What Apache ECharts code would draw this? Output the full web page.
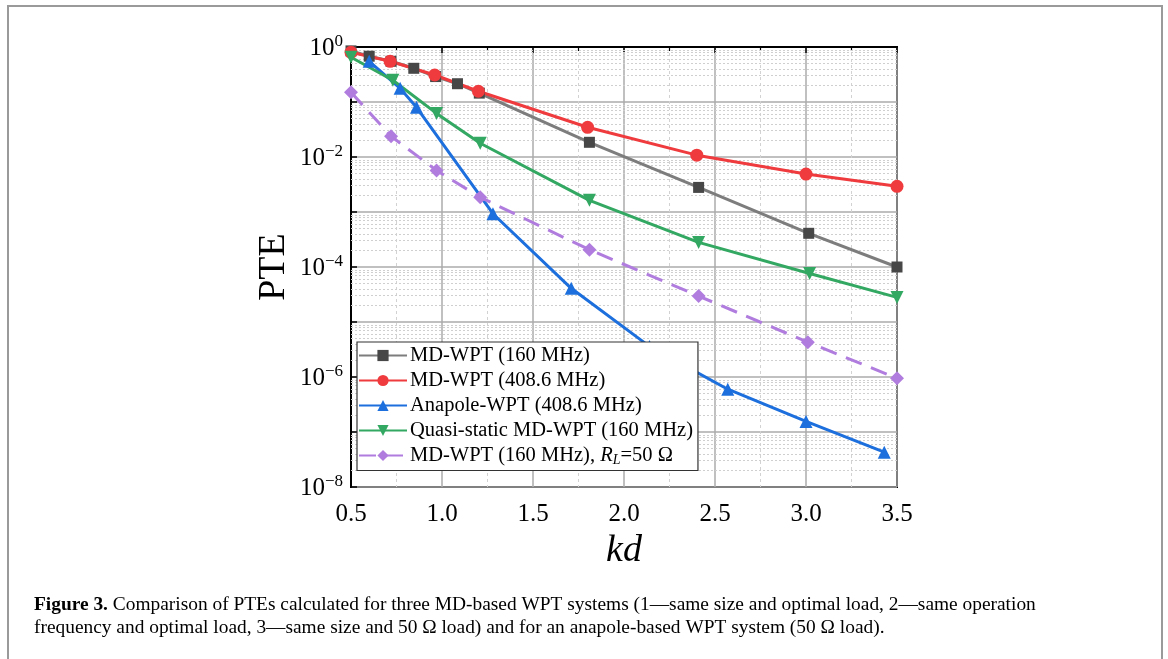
<!DOCTYPE html>
<html>
<head>
<meta charset="utf-8">
<script src="https://cdn.jsdelivr.net/npm/echarts@6/dist/echarts.min.js"></script>
<style>
  html, body { margin: 0; padding: 0; background: #fff; }
  #chart { width: 1168px; height: 659px; }
</style>
</head>
<body>
<div id="chart"></div>
<script>
// kd values and PTE values for each system
const kdMd160 = [0.5, 0.6, 0.72, 0.845, 0.965, 1.085, 1.205, 1.81, 2.41, 3.015, 3.5];
const pteMd160 = [0.85, 0.68, 0.55, 0.41, 0.29, 0.215, 0.145, 0.0185, 0.0028, 4.1e-4, 1.0e-4];

const kdMd408 = [0.5, 0.715, 0.96, 1.2, 1.8, 2.4, 3.0, 3.5];
const pteMd408 = [0.80, 0.55, 0.31, 0.157, 0.0347, 0.0108, 0.0049, 0.00293];

const kdAnapole = [0.6, 0.77, 0.86, 1.28, 1.71, 2.14, 2.57, 3.0, 3.43];
const pteAnapole = [0.55, 0.177, 0.08, 9.3e-4, 4.1e-5, 3.6e-6, 6.0e-7, 1.56e-7, 4.3e-8];

const kdQuasi = [0.5, 0.73, 0.97, 1.21, 1.81, 2.41, 3.02, 3.5];
const pteQuasi = [0.65, 0.248, 0.062, 0.0178, 0.00163, 2.8e-4, 7.6e-5, 2.8e-5];

const kdMd50 = [0.5, 0.72, 0.97, 1.21, 1.81, 2.41, 3.01, 3.5];
const pteMd50 = [0.15, 0.0238, 0.0057, 0.00185, 2.06e-4, 2.96e-5, 4.3e-6, 9.5e-7];

const seriesNames = [
  'MD-WPT (160 MHz)',
  'MD-WPT (408.6 MHz)',
  'Anapole-WPT (408.6 MHz)',
  'Quasi-static MD-WPT (160 MHz)',
  'MD-WPT (160 MHz), R_L=50 Ω'
];
const xTicks = [0.5, 1.0, 1.5, 2.0, 2.5, 3.0, 3.5];
const yDecadeMin = -8, yDecadeMax = 0;

const serif = '"Liberation Serif", "Times New Roman", serif';

// the y axis works on log10(PTE)
function pairs(xs, ys) {
  return xs.map((x, i) => [x, Math.log10(ys[i])]);
}

// dotted minor grid at 2..9 × 10^n
const minorLines = [];
for (let n = yDecadeMin; n < yDecadeMax; n++) {
  for (let k = 2; k <= 9; k++) minorLines.push({ yAxis: n + Math.log10(k) });
}

function lineSeries(name, data, color, markerColor, symbol, size, extra) {
  return Object.assign({
    name: name,
    type: 'line',
    data: data,
    clip: false,
    symbol: symbol,
    symbolSize: size,
    showAllSymbol: true,
    lineStyle: { color: color, width: 3 },
    itemStyle: { color: markerColor, borderWidth: 0 },
    emphasis: { disabled: true },
    animation: false,
    z: 3
  }, extra || {});
}

const chart = echarts.init(document.getElementById('chart'), null, { renderer: 'canvas' });

chart.setOption({
  backgroundColor: '#fff',
  animation: false,
  grid: {
    left: 351, top: 47, width: 546, height: 440,
    show: true, borderColor: '#000', borderWidth: 2, backgroundColor: 'transparent'
  },
  xAxis: {
    type: 'value',
    min: xTicks[0], max: xTicks[xTicks.length - 1], interval: 0.5,
    name: 'kd',
    nameLocation: 'middle',
    nameGap: 44,
    nameTextStyle: { fontFamily: serif, fontStyle: 'italic', fontSize: 38, color: '#000' },
    axisLine: { show: true, lineStyle: { color: '#000', width: 2 } },
    axisTick: { show: true, inside: false, length: 6, lineStyle: { color: '#000', width: 1.5 } },
    minorTick: { show: true, splitNumber: 2, length: 4, lineStyle: { color: '#000', width: 1.2 } },
    axisLabel: {
      fontFamily: serif, fontSize: 25, color: '#000', margin: 15,
      formatter: v => v.toFixed(1)
    },
    splitLine: { show: true, lineStyle: { color: '#ababab', width: 1.5 } },
    minorSplitLine: { show: true, lineStyle: { color: '#d2d2d2', width: 1, type: [3, 3] } }
  },
  yAxis: {
    type: 'value',
    min: yDecadeMin, max: yDecadeMax, interval: 1,
    name: 'PTE',
    nameLocation: 'middle',
    nameGap: 58,
    nameTextStyle: { fontFamily: serif, fontSize: 38, color: '#000' },
    axisLine: { show: true, lineStyle: { color: '#000', width: 2 } },
    axisTick: { show: true, inside: true, length: 6, lineStyle: { color: '#000', width: 1.5 } },
    axisLabel: {
      margin: 8,
      formatter: v => {
        if (Math.round(v) % 2 !== 0) return '';
        const e = Math.round(v) === 0 ? '0' : '\u2212' + (-Math.round(v));
        return '{b|10}{s|' + e + '}';
      },
      rich: {
        b: { fontFamily: serif, fontSize: 25, color: '#000', verticalAlign: 'bottom', lineHeight: 28 },
        s: { fontFamily: serif, fontSize: 17, color: '#000', verticalAlign: 'top', lineHeight: 28, padding: [0, 0, 12, 0] }
      }
    },
    splitLine: { show: true, lineStyle: { color: '#ababab', width: 1.5 } }
  },
  legend: {
    orient: 'vertical',
    left: 357, top: 342,
    data: seriesNames,
    backgroundColor: '#fff',
    borderColor: '#333',
    borderWidth: 1.2,
    padding: [3, 5, 3, 1],
    itemGap: 4,
    itemWidth: 48,
    itemHeight: 14,
    selectedMode: false,
    z: 10,
    textStyle: {
      fontFamily: serif, fontSize: 20.5, color: '#000', padding: [0, 0, 0, -2],
      rich: {
        i: { fontFamily: serif, fontSize: 20.5, fontStyle: 'italic', color: '#000' },
        sub: { fontFamily: serif, fontSize: 14, fontStyle: 'italic', color: '#000', verticalAlign: 'bottom', padding: [10, 0, 0, 0] },
        t: { fontFamily: serif, fontSize: 20.5, color: '#000' }
      }
    },
    formatter: name => name.indexOf('R_L') >= 0
      ? '{t|MD-WPT (160 MHz), }{i|R}{sub|L}{t|=50 Ω}'
      : name
  },
  series: [
    {
      type: 'line', data: [], silent: true, symbol: 'none', z: 1,
      markLine: {
        z: 1,
        silent: true, symbol: 'none', animation: false,
        label: { show: false },
        lineStyle: { color: '#cfcfcf', width: 1, type: [2, 2] },
        emphasis: { disabled: true },
        data: minorLines
      }
    },
    lineSeries(seriesNames[0], pairs(kdMd160, pteMd160), '#7d7d7d', '#474747', 'rect', 11),
    lineSeries(seriesNames[1], pairs(kdMd408, pteMd408), '#ef3b3d', '#ef3b3d', 'circle', 13),
    lineSeries(seriesNames[2], pairs(kdAnapole, pteAnapole), '#1c6fdd', '#1c6fdd', 'triangle', 13),
    lineSeries(seriesNames[3], pairs(kdQuasi, pteQuasi), '#33a862', '#33a862', 'triangle', 13, { symbolRotate: 180 }),
    lineSeries(seriesNames[4], pairs(kdMd50, pteMd50), '#b07ddf', '#b07ddf', 'diamond', 14,
      { lineStyle: { color: '#b07ddf', width: 3, type: [17, 10] } })
  ],
  graphic: [
    {
      type: 'rect', silent: true, z: -10,
      shape: { x: 8, y: 6, width: 1154, height: 720 },
      style: { fill: 'none', stroke: '#9a9a9a', lineWidth: 2 }
    },
    {
      type: 'text', left: 34, top: 595, silent: true,
      style: {
        text: '{b|Figure 3.} Comparison of PTEs calculated for three MD-based WPT systems (1\u2014same size and optimal load, 2\u2014same operation',
        fontFamily: serif, fontSize: 19.4, fill: '#000',
        rich: { b: { fontFamily: serif, fontSize: 19.4, fontWeight: 'bold', fill: '#000' } }
      }
    },
    {
      type: 'text', left: 34, top: 618, silent: true,
      style: {
        text: 'frequency and optimal load, 3\u2014same size and 50 \u03A9 load) and for an anapole-based WPT system (50 \u03A9 load).',
        fontFamily: serif, fontSize: 19.4, fill: '#000'
      }
    }
  ]
});
</script>
</body>
</html>
